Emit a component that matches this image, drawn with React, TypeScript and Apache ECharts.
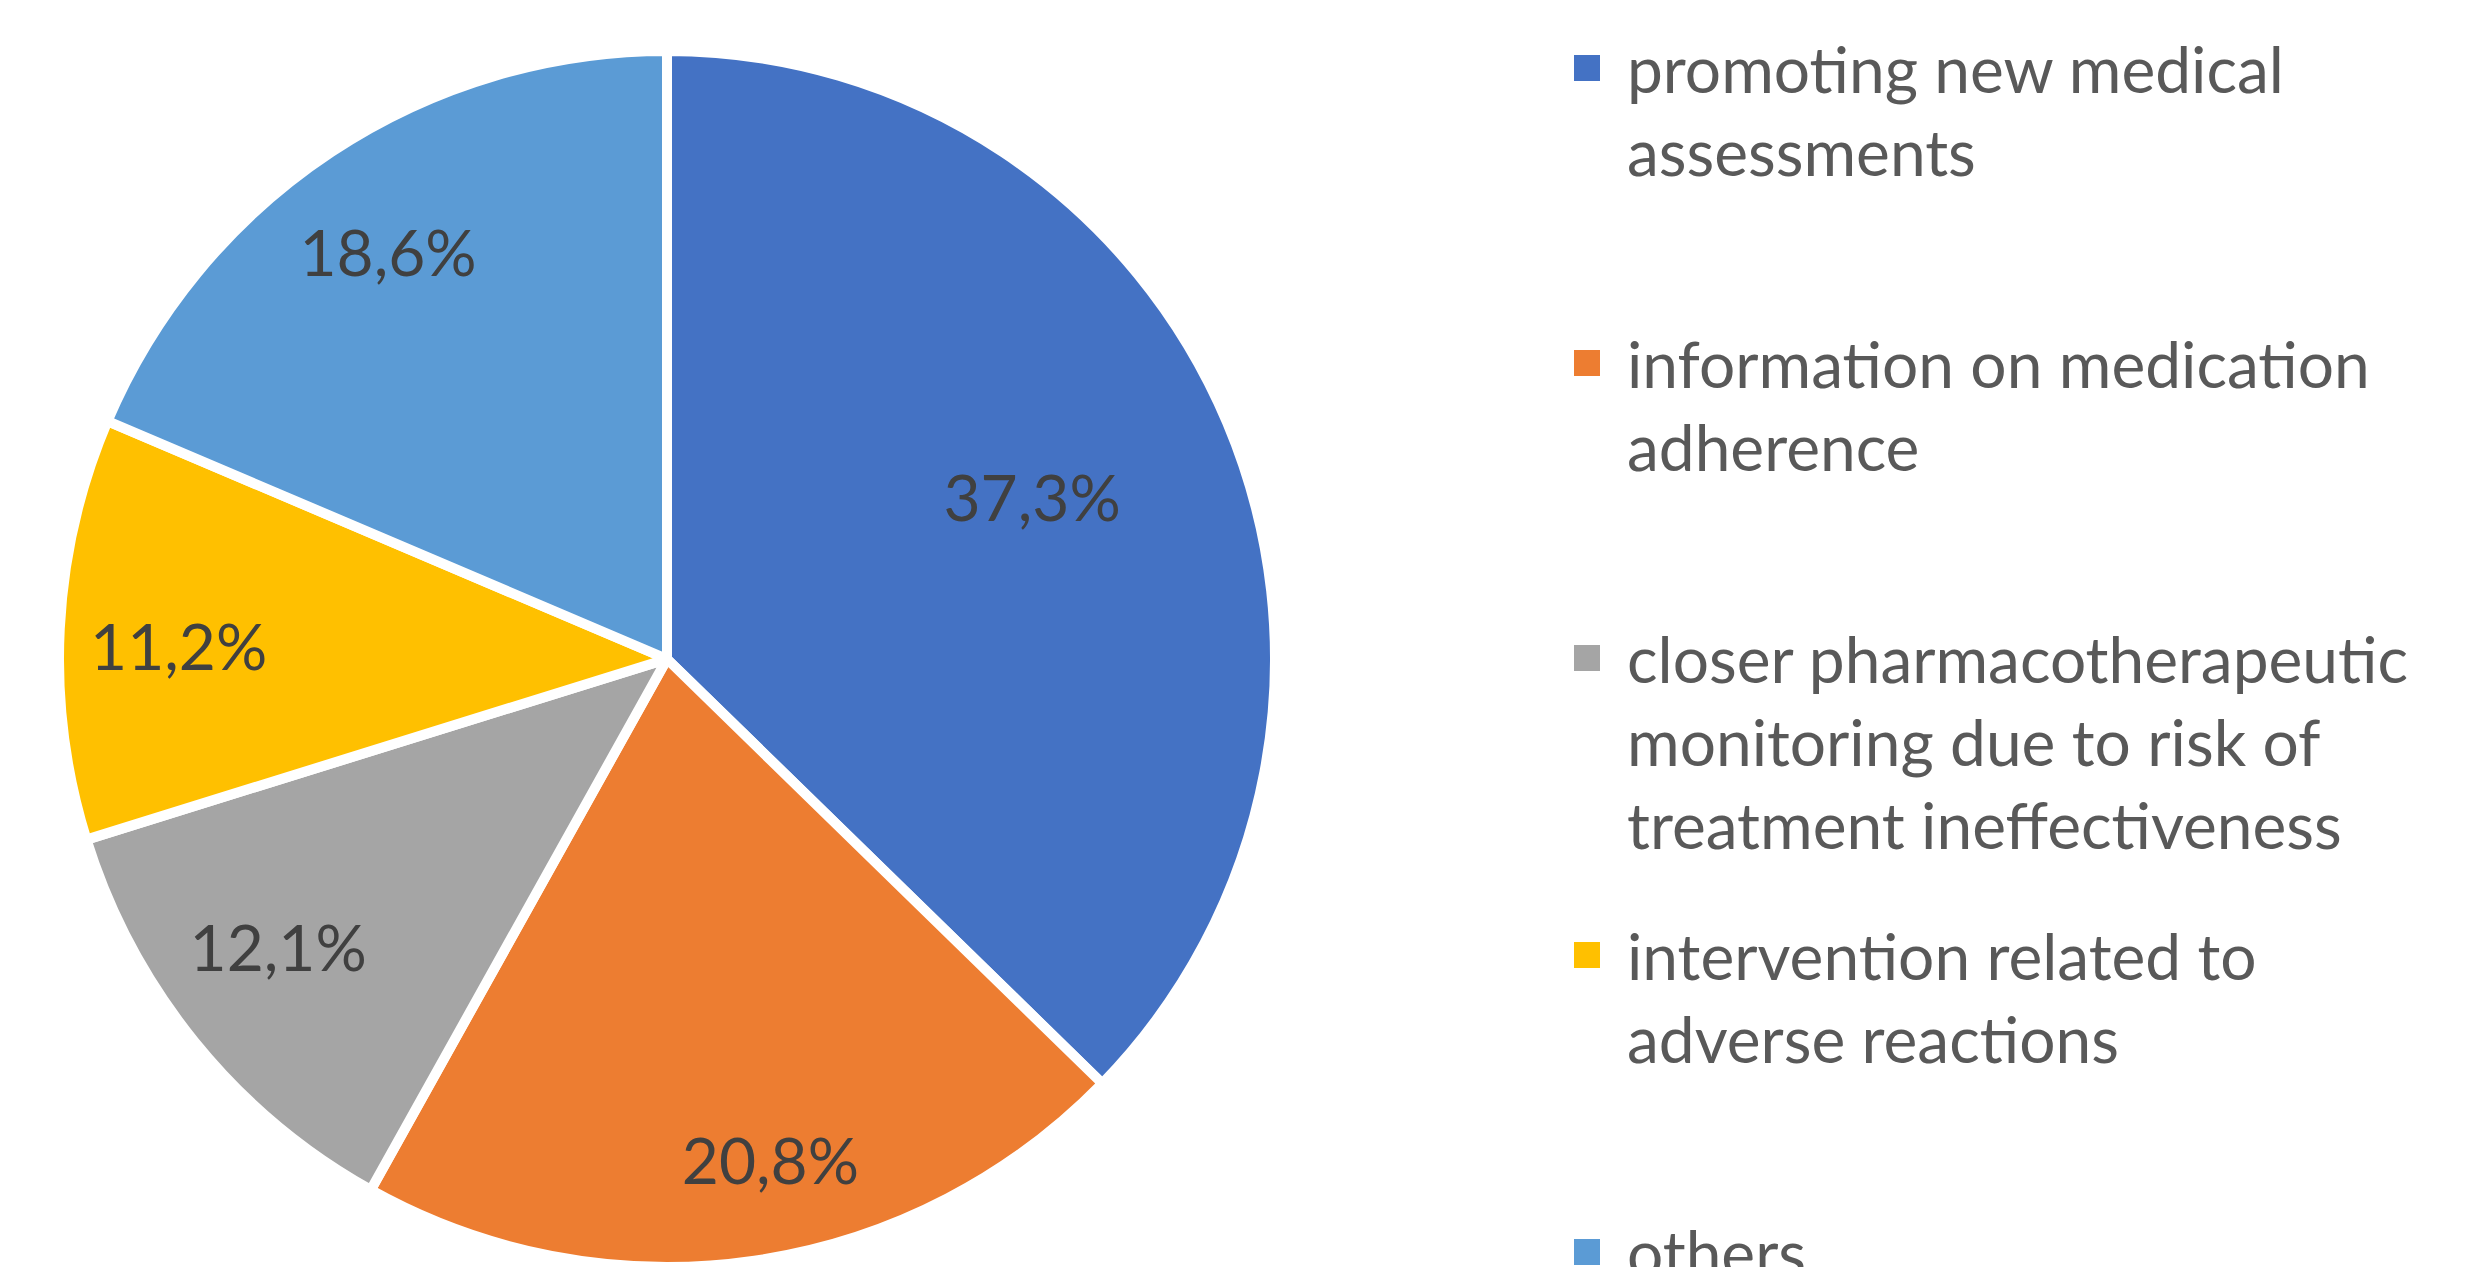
import React, { useEffect, useRef } from "react";
import * as echarts from "echarts";

// ---------- data ----------
const categories = [
  "promoting new medical\nassessments",
  "information on medication\nadherence",
  "closer pharmacotherapeutic\nmonitoring due to risk of\ntreatment ineffectiveness",
  "intervention related to\nadverse reactions",
  "others",
];
const values = [37.3, 20.8, 12.1, 11.2, 18.6];
const colors = ["#4472C4", "#ED7D31", "#A5A5A5", "#FFC000", "#5B9BD5"];

// ---------- layout ----------
const W = 2487;
const H = 1267;
const CX = 667;
const CY = 659;
const BORDER = 10;
const R_VISIBLE = 603;
const R = R_VISIBLE + BORDER / 2;
// label placement (Excel "best fit"): radial factor and angular shift (deg) per slice
const labelRadiusFactor = [0.66, 0.854, 0.806, 0.81, 0.813];
const labelAngleShift = [-0.6, -3.3, 2.2, -1.8, -1.2];
const LABEL_DY = -4;
const LEGEND_ICON_X = 1574;
const LEGEND_ICON = 26;
const LEGEND_TEXT_X = 1627;
const LEGEND_CENTERS = [68, 363, 658, 955, 1252];
const LINE_H = 83;
const FONT = "Lato, 'Liberation Sans', sans-serif";
const LABEL_SIZE = 64;
const LEGEND_SIZE = 64;

export default function App() {
  const ref = useRef<HTMLDivElement | null>(null);

  useEffect(() => {
    document.body.style.margin = "0";
    document.body.style.overflow = "hidden";
    if (!ref.current) return;
    const chart = echarts.init(ref.current, undefined, { renderer: "svg" });

    const legendChildren: any[] = [];
    categories.forEach((name, i) => {
      const c = LEGEND_CENTERS[i];
      legendChildren.push({
        type: "rect",
        shape: { x: LEGEND_ICON_X, y: c - LEGEND_ICON / 2, width: LEGEND_ICON, height: LEGEND_ICON },
        style: { fill: colors[i] },
        silent: true,
      });
      legendChildren.push({
        type: "text",
        x: LEGEND_TEXT_X,
        y: c - LINE_H / 2,
        style: {
          text: name,
          fontFamily: FONT,
          fontSize: LEGEND_SIZE,
          lineHeight: LINE_H,
          fill: "#595959",
          verticalAlign: "top",
          align: "left",
        },
        silent: true,
      });
    });

    chart.setOption({
      animation: false,
      backgroundColor: "#ffffff",
      series: [
        {
          type: "pie",
          center: [CX, CY],
          radius: [0, R],
          startAngle: 90,
          clockwise: true,
          avoidLabelOverlap: false,
          itemStyle: { borderColor: "#ffffff", borderWidth: BORDER },
          label: {
            show: true,
            position: "inside",
            formatter: (p: any) => p.value.toFixed(1).replace(".", ",") + "%",
            fontFamily: FONT,
            fontSize: LABEL_SIZE,
            color: "#404040",
          },
          labelLine: { show: false },
          labelLayout: (params: any) => {
            const r = params.labelRect;
            const lx = r.x + r.width / 2;
            const ly = r.y + r.height / 2;
            const i = params.dataIndex;
            const a = Math.atan2(ly - CY, lx - CX) + (labelAngleShift[i] * Math.PI) / 180;
            const f = labelRadiusFactor[i];
            const tx = CX + Math.cos(a) * f * R_VISIBLE;
            const ty = CY + Math.sin(a) * f * R_VISIBLE + LABEL_DY;
            return { dx: tx - lx, dy: ty - ly };
          },
          emphasis: { disabled: true },
          data: categories.map((name, i) => ({
            name,
            value: values[i],
            itemStyle: { color: colors[i] },
          })),
        },
      ],
      graphic: [{ type: "group", children: legendChildren }],
    });

    return () => chart.dispose();
  }, []);

  return <div ref={ref} style={{ width: W, height: H }} />;
}
